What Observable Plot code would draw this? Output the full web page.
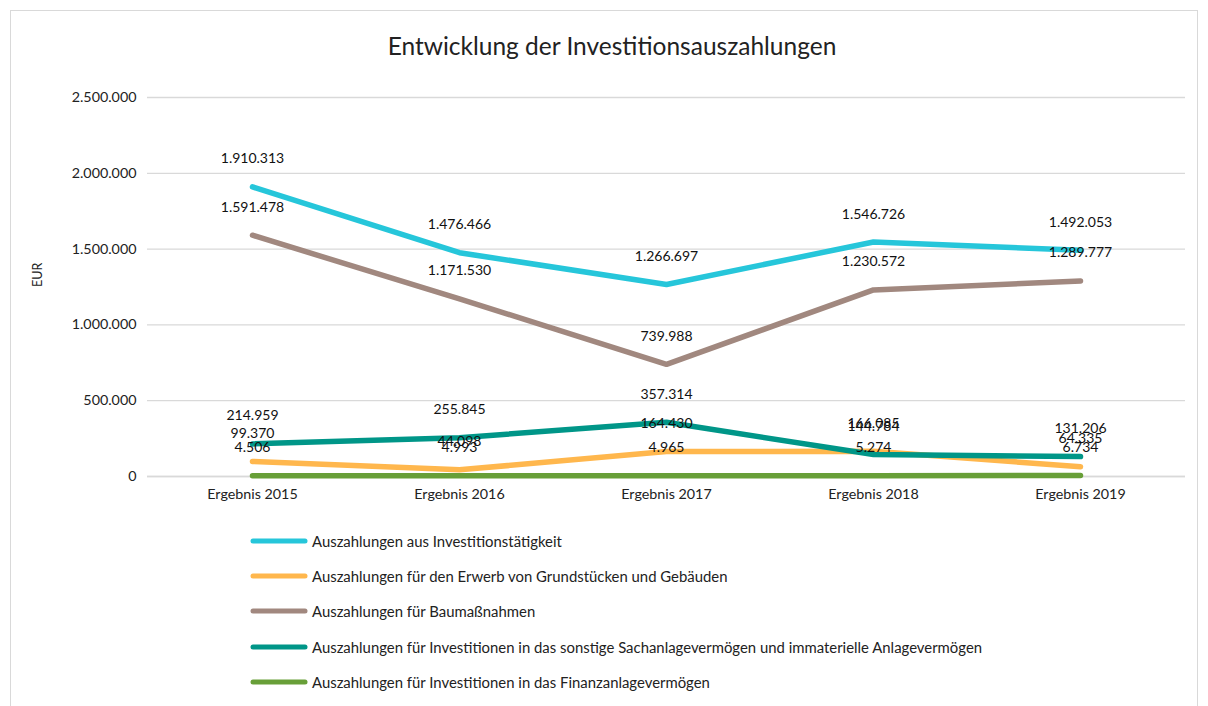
<!DOCTYPE html>
<html><head><meta charset="utf-8">
<script src="https://cdn.jsdelivr.net/npm/d3@7"></script>
<script src="https://cdn.jsdelivr.net/npm/@observablehq/plot@0.6"></script>
<style>
html,body{margin:0;padding:0;background:#fff;}
#frame{position:absolute;left:10px;top:10px;width:1188px;height:720px;border:1px solid #d9d9d9;box-sizing:border-box;}
#title{position:absolute;left:0;width:1224px;top:31px;text-align:center;font-family:Lato,sans-serif;font-size:24.5px;color:#222;}
#chart{position:absolute;left:0;top:80px;}
#legend{position:absolute;left:250px;top:523px;font-family:Lato,sans-serif;font-size:14.9px;color:#222;}
.row{height:35.3px;display:flex;align-items:center;}
.row svg{margin-right:4px;}
</style></head>
<body>
<div id="frame"></div>
<div id="title">Entwicklung der Investitionsauszahlungen</div>
<div id="chart"></div>
<div id="legend"></div>
<script>
const years = ["Ergebnis 2015","Ergebnis 2016","Ergebnis 2017","Ergebnis 2018","Ergebnis 2019"];
const seriesNames = [
  "Auszahlungen aus Investitionstätigkeit",
  "Auszahlungen für den Erwerb von Grundstücken und Gebäuden",
  "Auszahlungen für Baumaßnahmen",
  "Auszahlungen für Investitionen in das sonstige Sachanlagevermögen und immaterielle Anlagevermögen",
  "Auszahlungen für Investitionen in das Finanzanlagevermögen"
];
const seriesColors = ["#26C6DA","#FFB74D","#A1887F","#009688","#689F38"];
const investitionstaetigkeit = [1910313,1476466,1266697,1546726,1492053];
const grundstuecke = [99370,44098,164430,166085,64335];
const baumassnahmen = [1591478,1171530,739988,1230572,1289777];
const sachanlage = [214959,255845,357314,144784,131206];
const finanzanlage = [4506,4993,4965,5274,6734];
const yTicks = [0,500000,1000000,1500000,2000000,2500000];

const allValues = [investitionstaetigkeit,grundstuecke,baumassnahmen,sachanlage,finanzanlage];
const rows = [];
allValues.forEach((vals,i)=>vals.forEach((v,j)=>rows.push({series:seriesNames[i],year:years[j],value:v})));

const de = d3.formatLocale({decimal:",",thousands:".",grouping:[3],currency:["","€"]});
const fmt = de.format(",.0f");

const plot = Plot.plot({
  width:1208, height:426,
  marginLeft:147, marginRight:23, marginTop:17, marginBottom:30,
  style:{fontFamily:"Lato, sans-serif", fontSize:"14.3px", color:"#222", background:"transparent"},
  x:{type:"point", domain:years, padding:0.5, label:null, tickSize:0, tickPadding:12},
  y:{domain:[0,2500000], ticks:yTicks, tickFormat:fmt, label:null, tickSize:0, tickPadding:11},
  color:{domain:seriesNames, range:seriesColors},
  marks:[
    Plot.gridY(yTicks,{stroke:"#d9d9d9", strokeOpacity:1, strokeWidth:1.3}),
    Plot.ruleY([0],{stroke:"#d9d9d9", strokeWidth:1.3}),
    Plot.line(rows,{x:"year", y:"value", z:"series", stroke:"series", strokeWidth:5.5, strokeLinecap:"round", strokeLinejoin:"round"}),
    Plot.text(rows,{x:"year", y:"value", text:d=>fmt(d.value), dy:-28, fill:"#111", fontSize:14}),
    Plot.text(["EUR"],{frameAnchor:"left", dx:-110, rotate:-90, fontSize:12.5, fill:"#222"})
  ]
});
document.getElementById("chart").appendChild(plot);

const leg = document.getElementById("legend");
seriesNames.forEach((n,i)=>{
  const r = document.createElement("div"); r.className="row";
  r.innerHTML = `<svg width="58" height="8"><line x1="3" y1="4" x2="55" y2="4" stroke="${seriesColors[i]}" stroke-width="5" stroke-linecap="round"/></svg><span>${n}</span>`;
  leg.appendChild(r);
});
</script>
</body></html>
